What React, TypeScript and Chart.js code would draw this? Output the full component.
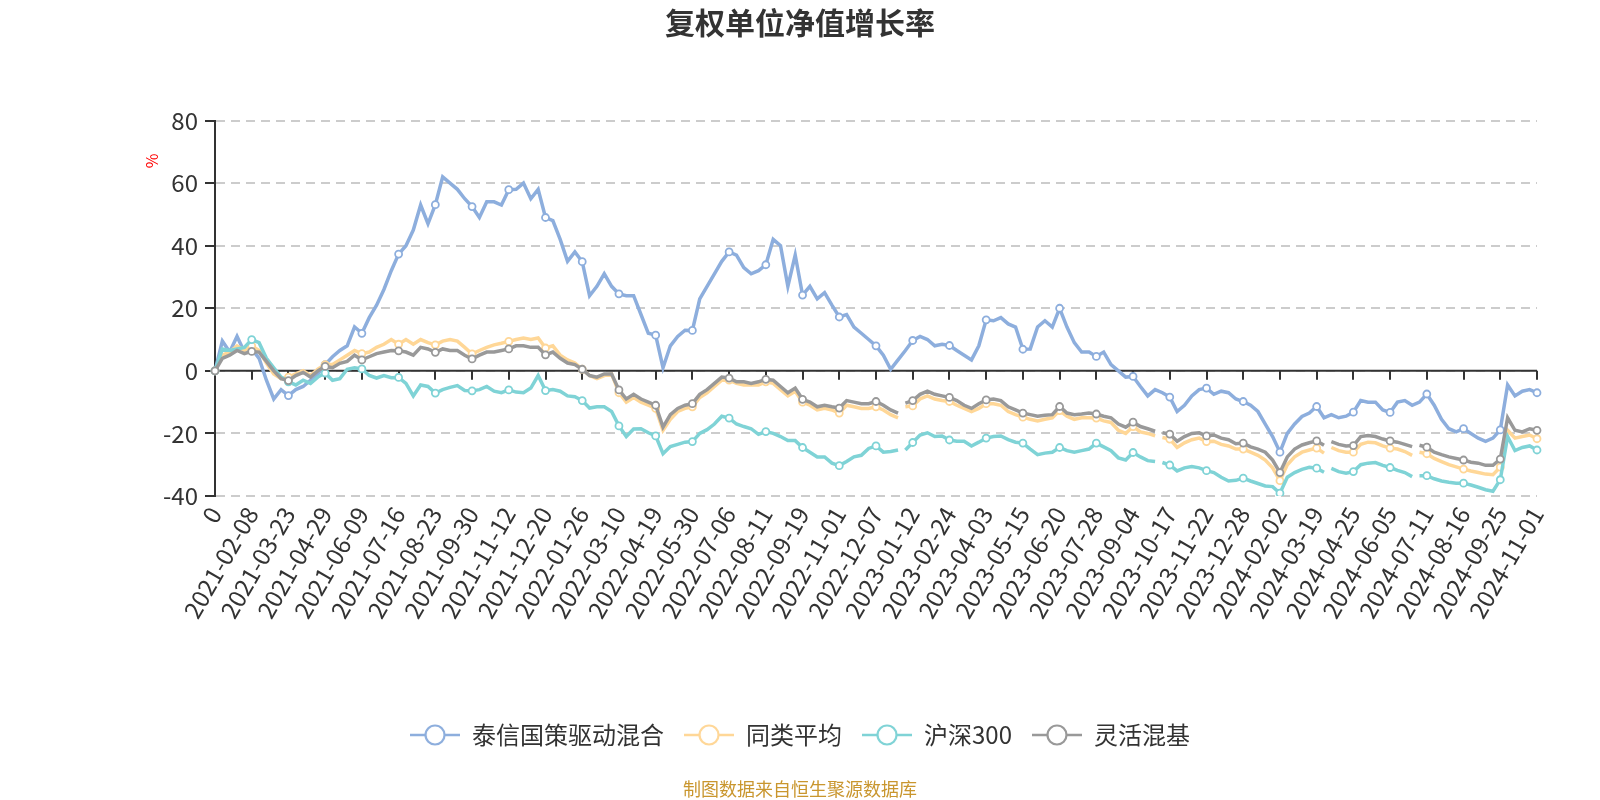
import React, { useEffect, useRef } from 'react';
import { Chart, registerables } from 'chart.js';

Chart.register(...registerables);

// ---- data -------------------------------------------------------------
const TICK_LABELS = [
  '0', '2021-02-08', '2021-03-23', '2021-04-29', '2021-06-09', '2021-07-16', '2021-08-23',
  '2021-09-30', '2021-11-12', '2021-12-20', '2022-01-26', '2022-03-10', '2022-04-19',
  '2022-05-30', '2022-07-06', '2022-08-11', '2022-09-19', '2022-11-01', '2022-12-07',
  '2023-01-12', '2023-02-24', '2023-04-03', '2023-05-15', '2023-06-20', '2023-07-28',
  '2023-09-04', '2023-10-17', '2023-11-22', '2023-12-28', '2024-02-02', '2024-03-19',
  '2024-04-25', '2024-06-05', '2024-07-11', '2024-08-16', '2024-09-25', '2024-11-01',
];
// samples between two labelled dates
const STEPS = 5;

const SERIES_NAMES = ['泰信国策驱动混合', '同类平均', '沪深300', '灵活混基'];

const FUND = [
  0, 9.5, 6, 11, 6, 7, 4, -3, -9, -6,
  -7.9, -6, -5, -3, -1, 2, 4.5, 6.5, 8, 14,
  12, 17, 21, 26, 32, 37.3, 40, 45, 53, 47,
  53.1, 62, 60, 58, 55, 52.5, 49, 54, 54, 53,
  57.9, 58, 60, 55, 58, 49, 48, 42, 35, 38,
  34.9, 24, 27, 31, 27, 24.6, 24, 24, 18, 12,
  11.4, 1, 8, 11, 13, 12.9, 23, 27, 31, 35,
  38, 37, 33, 31, 32, 33.9, 42, 40, 27, 37,
  24.2, 27, 23, 25, 21, 17.2, 18, 14, 12, 10,
  8, 5, 0.5, 3.5, 6.5, 9.7, 11, 10, 8, 8.5,
  8.1, 6.5, 5, 3.5, 8, 16.3, 16, 17, 15, 14,
  6.9, 7, 14, 16, 14, 20, 14, 9, 6, 6,
  4.6, 6, 2, 0, -2, -1.8, -5, -8, -6, -7,
  -8.4, -13, -11, -8, -6, -5.5, -7.5, -6.5, -7, -9,
  -9.8, -11, -13, -17, -21, -26, -20, -17, -14.6, -13.5,
  -11.4, -15, -14, -15, -14.5, -13.2, -9.5, -10, -10, -12.5,
  -13.3, -10, -9.5, -11, -10, -7.4, -11, -15.5, -18.5, -19.5,
  -18.5, -20, -21.5, -22.5, -21.5, -18.9, -4.5, -8, -6.5, -6,
  -7,
];

const PEER_AVG = [
  0, 5, 6, 8, 6.5, 8, 6.5, 2.5, -1, -2.5,
  -2, -1, 0, -1.5, 0.5, 2, 2, 3.5, 5, 6.5,
  5.5, 6, 7.5, 8.5, 10, 8.5, 10, 8.5, 10, 9,
  8.3, 9.5, 10, 9.5, 7.5, 5.4, 6.5, 7.5, 8.3, 8.8,
  9.4, 10, 10.5, 10, 10.5, 7.3, 8, 5, 3.5, 2.5,
  0.5, -1.5, -2.5, -1.5, -1, -7, -10, -8.5, -10, -11,
  -12, -19, -15.5, -13, -12, -11.5, -8.5, -7, -5, -3,
  -3, -4, -4.5, -4.5, -4.5, -3.5, -4, -6, -8, -6.5,
  -10, -11, -12.5, -12, -12.5, -13.5, -11, -11.5, -12, -12,
  -11.5, -12.5, -14, -15, -11.5, -11.2, -9, -8, -9, -9.5,
  -9.8, -11, -12, -13, -12, -10.5, -10.5, -11, -13, -14,
  -14.8, -15.5, -16, -15.5, -15, -12.7, -14.5, -15.5, -15, -15,
  -15.1, -16, -16.5, -19, -20, -17.8, -19.5, -20, -20.8, -21.3,
  -21.8, -24.5, -23, -22, -21.5, -22.6, -22.5, -23.5, -24, -25,
  -25, -26, -27, -28.5, -31, -35.1, -30, -27.5, -26, -25.3,
  -24.7, -26.3, -24.5, -25.5, -26, -26, -23.5, -22.8, -23, -24,
  -24.7, -25, -25.8, -27, -26, -26.5, -28, -29, -30, -30.7,
  -31.4, -32, -32.5, -33, -33.2, -30.8, -19, -21.5, -21, -20.5,
  -21.7,
];

const HS300 = [
  0, 7, 6.5, 7, 7.5, 10, 9, 4, 1, -2,
  -3.5, -4.5, -3, -4, -2, -0.7, -3, -2.5, 0.5, 1,
  0.6, -1.5, -2.3, -1.5, -2.2, -2.1, -4, -8, -4.5, -5,
  -7.1, -6, -5.3, -4.7, -6.3, -6.4, -6, -5, -6.5, -7,
  -6.1, -6.8, -7, -5.5, -1.5, -6.3, -6, -6.5, -8, -8.3,
  -9.5, -11.9, -11.5, -11.5, -13, -17.6, -21, -18.6, -18.5, -19.8,
  -20.8, -26.5, -24.2, -23.5, -22.8, -22.6, -20, -18.8, -17, -14.5,
  -15.1, -17, -17.8, -18.5, -20.3, -19.4, -20, -21, -22.3, -22.3,
  -24.5, -26, -27.5, -27.5, -29.5, -30.3, -29, -27.5, -27, -24.8,
  -24, -26, -25.8, -25.3, -25.3, -22.9, -20.5, -19.8, -21, -20.8,
  -22.1, -22.5, -22.5, -24, -22.8, -21.5, -21, -20.8, -22, -22.8,
  -23.1, -25, -26.8, -26.3, -26, -24.5, -25.5, -26, -25.5, -25,
  -23.1, -24.3, -25.5, -27.8, -28.5, -26.1, -27.5, -28.7, -29, -29.3,
  -30.1, -32, -31, -30.6, -31, -31.9, -32.5, -34, -35.2, -35,
  -34.3, -35.2, -36, -36.8, -37, -39.1, -34, -32.5, -31.5, -30.8,
  -31.1, -32.4, -31.2, -32.2, -32.7, -32.2, -30, -29.5, -29.3, -30.2,
  -30.9, -31.8, -32.5, -33.8, -33.5, -33.5, -34.5, -35.2, -35.6, -35.9,
  -35.9, -36.5, -37.2, -38, -38.5, -34.8, -21, -25.5, -24.5, -24,
  -25.3,
];

const FLEX = [
  0, 4, 5, 6.5, 5.5, 6.2, 6, 3, 0, -2.5,
  -3.1, -1.5, -0.5, -2, 0, 1.4, 1, 2.4, 3, 5,
  3.5, 4.5, 5.5, 6, 6.5, 6.4, 6, 5, 7.5, 7,
  5.9, 7, 6.5, 6.5, 5, 3.8, 5, 6, 6, 6.5,
  7, 8, 8, 7.5, 7.5, 5.1, 6, 4, 2.5, 2,
  0.5, -1.5, -2, -1, -1, -6.1, -9, -7.5, -9, -10,
  -11, -18, -14, -12, -11, -10.5, -7.5, -6, -4, -2,
  -2.3, -3.5, -3.5, -4, -3.5, -2.7, -3, -5, -7, -5.5,
  -9.1, -10, -11.5, -11, -11.5, -11.9, -9.5, -10, -10.5, -10.5,
  -9.8, -11, -12.5, -13.5, -10.3, -9.5, -7.5, -6.5, -7.5, -8,
  -8.5, -9.5, -11, -12, -10.5, -9.3, -9, -9.5, -11.5, -12.5,
  -13.5, -14, -14.5, -14.2, -14, -11.4, -13.5, -14, -13.8, -13.5,
  -13.8, -14.5, -15, -17, -18, -16.4, -17.8, -18.5, -19.3, -19.8,
  -20.2, -22.5, -21, -20, -19.8, -20.8, -20.5, -21.5, -22, -23.3,
  -23.1, -24.3, -25, -26, -28.5, -32.5, -27.5, -25, -23.7, -23,
  -22.4, -23.8, -22.6, -23.5, -24, -23.9, -21, -20.7, -21, -21.8,
  -22.4, -22.8, -23.5, -24.2, -23.8, -24.4, -26, -26.8, -27.5, -28,
  -28.5, -29.2, -29.5, -30.2, -30.2, -28.2, -15, -19, -19.5, -18.5,
  -19,
];

// sample index after which the benchmark series have no data for a short stretch
const GAP_AFTER = [93, 128, 151, 163];

const Y_MIN = -40;
const Y_MAX = 80;
const Y_STEP = 20;

// ---- styling ------------------------------------------------------------
const COLORS = ['#8DAEDD', '#FFD797', '#7FD3D6', '#999999'];
const FONT = "'Noto Sans CJK SC', 'Noto Sans', sans-serif";
const TEXT = '#333333';

function makeLegendIcon(color: string): HTMLCanvasElement {
  const c = document.createElement('canvas');
  c.width = 50;
  c.height = 24;
  const g = c.getContext('2d')!;
  g.strokeStyle = color;
  g.lineWidth = 2.5;
  g.beginPath();
  g.moveTo(0, 12);
  g.lineTo(50, 12);
  g.stroke();
  g.beginPath();
  g.arc(25, 12, 9.5, 0, Math.PI * 2);
  g.fillStyle = '#ffffff';
  g.fill();
  g.lineWidth = 2.2;
  g.stroke();
  return c;
}

const zeroAxisPlugin = {
  id: 'zeroAxis',
  beforeDatasetsDraw(chart: any) {
    const { ctx } = chart;
    const x = chart.scales.x;
    const y = chart.scales.y;
    const y0 = y.getPixelForValue(0);
    ctx.save();
    ctx.strokeStyle = TEXT;
    ctx.lineWidth = 2;
    ctx.beginPath();
    ctx.moveTo(x.left, y0);
    ctx.lineTo(x.right, y0);
    for (let k = 0; k < TICK_LABELS.length; k++) {
      const px = Math.round(x.getPixelForValue(k * STEPS));
      ctx.moveTo(px, y0);
      ctx.lineTo(px, y0 + 9);
    }
    ctx.stroke();
    ctx.restore();
  },
};

const extraTextPlugin = {
  id: 'extraText',
  afterDraw(chart: any) {
    const { ctx } = chart;
    ctx.save();
    // unit label of the value axis
    ctx.translate(152, 161);
    ctx.rotate(-Math.PI / 2);
    ctx.fillStyle = '#FF0000';
    ctx.font = `16px ${FONT}`;
    ctx.textAlign = 'center';
    ctx.textBaseline = 'middle';
    ctx.fillText('%', 0, 0);
    ctx.restore();

    ctx.save();
    ctx.fillStyle = '#C9962E';
    ctx.font = `18px ${FONT}`;
    ctx.textAlign = 'center';
    ctx.textBaseline = 'middle';
    ctx.fillText('制图数据来自恒生聚源数据库', 800, 789);
    ctx.restore();
  },
};

export default function App() {
  const ref = useRef<HTMLCanvasElement>(null);

  useEffect(() => {
    const canvas = ref.current;
    if (!canvas) return;
    Chart.defaults.font.family = FONT;

    const labels = FUND.map((_, i) => (i % STEPS === 0 ? TICK_LABELS[i / STEPS] : ''));
    const icons = COLORS.map(makeLegendIcon);
    const seriesValues = [FUND, PEER_AVG, HS300, FLEX];

    const datasets = seriesValues.map((values, idx) => ({
      label: SERIES_NAMES[idx],
      data: values,
      borderColor: COLORS[idx],
      backgroundColor: COLORS[idx],
      borderWidth: 3.5,
      tension: 0,
      fill: false,
      order: 4 - idx,
      pointRadius: (c: any) => (c.dataIndex % STEPS === 0 ? 3.5 : 0),
      pointHoverRadius: 0,
      pointBackgroundColor: '#ffffff',
      pointBorderColor: COLORS[idx],
      pointBorderWidth: 1.8,
      segment: idx === 0
        ? undefined
        : {
            borderColor: (s: any) => (GAP_AFTER.includes(s.p0DataIndex) ? 'rgba(0,0,0,0)' : undefined),
          },
    }));

    const chart = new Chart(canvas, {
      type: 'line',
      data: { labels, datasets },
      options: {
        responsive: false,
        maintainAspectRatio: false,
        animation: false,
        events: [],
        layout: { padding: { left: 0, right: 0, top: 0, bottom: 43 } },
        scales: {
          x: {
            type: 'category',
            offset: false,
            grid: { display: false, drawTicks: false },
            border: { display: false },
            ticks: {
              autoSkip: false,
              maxRotation: 60,
              minRotation: 60,
              padding: 6,
              color: TEXT,
              font: { size: 24, family: FONT },
            },
            afterFit: (s: any) => {
              s.height = 207;
            },
          },
          y: {
            min: Y_MIN,
            max: Y_MAX,
            ticks: {
              stepSize: Y_STEP,
              padding: 7,
              color: TEXT,
              font: { size: 24, family: FONT },
            },
            grid: {
              color: '#CCCCCC',
              lineWidth: 2,
              drawTicks: true,
              tickLength: 10,
              tickColor: TEXT,
              tickWidth: 2,
              tickBorderDash: [],
            },
            border: { display: true, color: TEXT, width: 2, dash: [9, 6] },
            afterFit: (s: any) => {
              s.width = 215;
            },
          },
          // empty right-hand margin so title and legend stay centred on the page
          yRight: {
            type: 'linear',
            position: 'right',
            display: true,
            ticks: { display: false },
            grid: { display: false, drawTicks: false },
            border: { display: false },
            afterFit: (s: any) => {
              s.width = 63;
            },
          },
        },
        plugins: {
          title: {
            display: true,
            text: '复权单位净值增长率',
            color: TEXT,
            font: { size: 30, weight: 'bold', family: FONT },
            padding: { top: 4.5, bottom: 80 },
          },
          legend: {
            display: true,
            position: 'bottom',
            labels: {
              usePointStyle: true,
              pointStyleWidth: 50,
              padding: 20,
              color: TEXT,
              font: { size: 24, family: FONT },
              generateLabels: (ch: any) =>
                ch.data.datasets.map((ds: any, i: number) => ({
                  text: ds.label,
                  fillStyle: '#ffffff',
                  strokeStyle: ds.borderColor,
                  lineWidth: 2,
                  pointStyle: icons[i],
                  hidden: false,
                  datasetIndex: i,
                  fontColor: TEXT,
                })),
            },
          },
          tooltip: { enabled: false },
        },
      },
      plugins: [zeroAxisPlugin, extraTextPlugin],
    } as any);

    return () => chart.destroy();
  }, []);

  return (
    <div style={{ position: 'fixed', left: 0, top: 0, width: 1600, height: 800, background: '#ffffff' }}>
      <canvas ref={ref} width={1600} height={800} style={{ display: 'block', width: 1600, height: 800 }} />
    </div>
  );
}
